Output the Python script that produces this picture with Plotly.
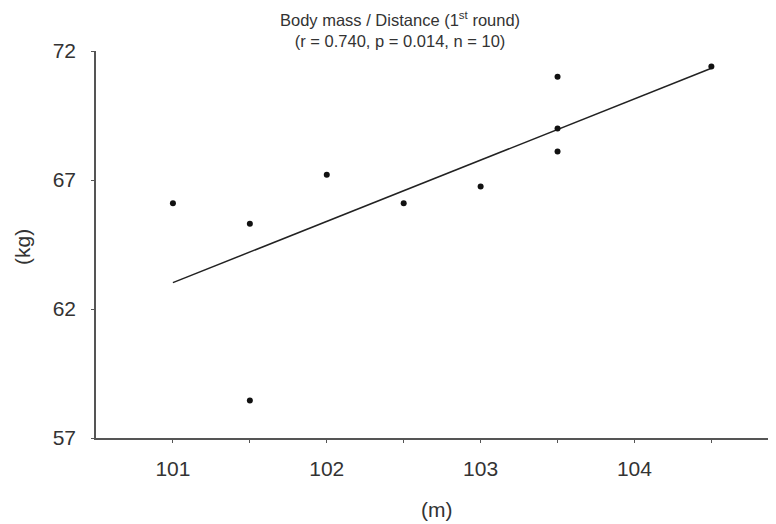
import numpy as np
import plotly.graph_objects as go

# Data
distance_m = [101.0, 101.5, 101.5, 102.0, 102.5, 103.0, 103.5, 103.5, 103.5, 104.5]
body_mass_kg = [66.1, 65.3, 58.45, 67.2, 66.1, 66.75, 71.0, 69.0, 68.1, 71.4]

x_tick_vals = [101, 101.5, 102, 102.5, 103, 103.5, 104, 104.5]
x_tick_text = ["101", "", "102", "", "103", "", "104", ""]
y_tick_vals = [57, 62, 67, 72]
y_tick_text = ["57", "62", "67", "72"]

title_text = "Body mass / Distance (1<sup>st</sup> round)<br>(r = 0.740, p = 0.014, n = 10)"
x_title = "(m)"
y_title = "(kg)"

# Least-squares regression line
slope, intercept = np.polyfit(distance_m, body_mass_kg, 1)
fit_x = [min(distance_m), max(distance_m)]
fit_y = [slope * v + intercept for v in fit_x]

FONT = "Liberation Sans, Arial, sans-serif"
TXT = "#333333"
OFF = 8  # browser default body margin
W, H = 776 - OFF, 524 - OFF
L, R, T, B = 96 - OFF, 0, 51 - OFF, 86
PW, PH = W - L - R, H - T - B


def px_x(sx):
    return (sx - OFF - L) / PW


def px_y(sy):
    return (T + PH - (sy - OFF)) / PH


fig = go.Figure()
fig.add_trace(go.Scatter(x=fit_x, y=fit_y, mode="lines",
                         line=dict(color="#222222", width=1.5),
                         showlegend=False, hoverinfo="skip"))
fig.add_trace(go.Scatter(x=distance_m, y=body_mass_kg, mode="markers",
                         marker=dict(color="#111111", size=6),
                         showlegend=False))

fig.update_layout(
    width=W, height=H,
    margin=dict(l=L, r=R, t=T, b=B, autoexpand=False),
    paper_bgcolor="white", plot_bgcolor="white",
    font=dict(family=FONT, color=TXT),
    xaxis=dict(range=[100.5, 104.92], tickmode="array",
               tickvals=x_tick_vals, ticktext=x_tick_text,
               showgrid=False, zeroline=False, showline=True,
               linecolor="#555555", linewidth=1.5,
               ticks="outside", ticklen=3, tickcolor="#555555",
               ticklabelstandoff=8, automargin=False,
               tickfont=dict(size=21, color=TXT)),
    yaxis=dict(range=[57, 72], tickmode="array",
               tickvals=y_tick_vals, ticktext=y_tick_text,
               showgrid=False, zeroline=False, showline=True,
               linecolor="#555555", linewidth=1.5,
               ticks="outside", ticklen=3, tickcolor="#555555",
               ticklabelstandoff=11, automargin=False,
               tickfont=dict(size=21, color=TXT)),
)

fig.add_annotation(text=title_text, xref="paper", yref="paper",
                   x=px_x(400), y=1, yanchor="bottom", xanchor="center",
                   yshift=-1, showarrow=False, align="center",
                   font=dict(size=16.5, color=TXT, family=FONT))
fig.add_annotation(text=x_title, xref="paper", yref="paper",
                   x=px_x(436), y=px_y(510),
                   xanchor="center", yanchor="middle", showarrow=False,
                   font=dict(size=21, color=TXT, family=FONT))
fig.add_annotation(text=y_title, xref="paper", yref="paper",
                   x=px_x(22), y=px_y(247),
                   xanchor="center", yanchor="middle", showarrow=False,
                   textangle=-90,
                   font=dict(size=21, color=TXT, family=FONT))

fig.write_html("out.html")
